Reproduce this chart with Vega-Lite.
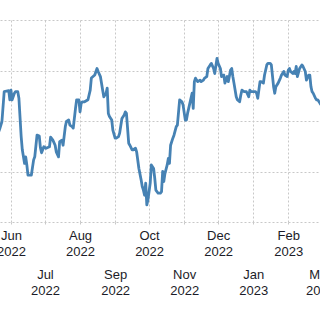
{
  "$schema": "https://vega.github.io/schema/vega-lite/v6.json",
  "autosize": {"type": "none"},
  "width": 320,
  "height": 202,
  "padding": {"left": 0, "top": 20, "right": 0, "bottom": 98},
  "background": "white",
  "config": {"view": {"stroke": null}},
  "data": {"values": [
    {"date": "2022/05/21", "v": 117.8},
    {"date": "2022/05/22", "v": 118.4},
    {"date": "2022/05/24", "v": 119.9},
    {"date": "2022/05/26", "v": 125.8},
    {"date": "2022/05/30", "v": 126.0},
    {"date": "2022/05/31", "v": 124.2},
    {"date": "2022/06/01", "v": 126.1},
    {"date": "2022/06/02", "v": 124.2},
    {"date": "2022/06/04", "v": 125.5},
    {"date": "2022/06/05", "v": 125.8},
    {"date": "2022/06/07", "v": 125.8},
    {"date": "2022/06/08", "v": 124.5},
    {"date": "2022/06/10", "v": 116.9},
    {"date": "2022/06/11", "v": 114.3},
    {"date": "2022/06/13", "v": 111.6},
    {"date": "2022/06/14", "v": 112.9},
    {"date": "2022/06/15", "v": 111.3},
    {"date": "2022/06/16", "v": 109.3},
    {"date": "2022/06/19", "v": 109.3},
    {"date": "2022/06/21", "v": 112.3},
    {"date": "2022/06/22", "v": 112.9},
    {"date": "2022/06/24", "v": 117.2},
    {"date": "2022/06/26", "v": 117.0},
    {"date": "2022/06/27", "v": 114.7},
    {"date": "2022/06/28", "v": 113.7},
    {"date": "2022/06/30", "v": 114.9},
    {"date": "2022/07/02", "v": 114.6},
    {"date": "2022/07/05", "v": 114.9},
    {"date": "2022/07/06", "v": 116.8},
    {"date": "2022/07/08", "v": 116.2},
    {"date": "2022/07/10", "v": 115.2},
    {"date": "2022/07/11", "v": 113.9},
    {"date": "2022/07/13", "v": 112.9},
    {"date": "2022/07/14", "v": 115.9},
    {"date": "2022/07/16", "v": 116.2},
    {"date": "2022/07/17", "v": 115.2},
    {"date": "2022/07/19", "v": 118.9},
    {"date": "2022/07/20", "v": 119.9},
    {"date": "2022/07/22", "v": 120.2},
    {"date": "2022/07/23", "v": 119.2},
    {"date": "2022/07/25", "v": 118.9},
    {"date": "2022/07/26", "v": 118.6},
    {"date": "2022/07/28", "v": 122.5},
    {"date": "2022/07/29", "v": 124.2},
    {"date": "2022/07/31", "v": 124.2},
    {"date": "2022/08/01", "v": 121.8},
    {"date": "2022/08/02", "v": 123.5},
    {"date": "2022/08/03", "v": 123.8},
    {"date": "2022/08/05", "v": 123.8},
    {"date": "2022/08/08", "v": 124.2},
    {"date": "2022/08/10", "v": 126.1},
    {"date": "2022/08/11", "v": 128.5},
    {"date": "2022/08/14", "v": 129.1},
    {"date": "2022/08/16", "v": 130.4},
    {"date": "2022/08/17", "v": 129.8},
    {"date": "2022/08/19", "v": 128.8},
    {"date": "2022/08/21", "v": 126.1},
    {"date": "2022/08/22", "v": 124.8},
    {"date": "2022/08/24", "v": 125.5},
    {"date": "2022/08/25", "v": 126.5},
    {"date": "2022/08/26", "v": 121.5},
    {"date": "2022/08/27", "v": 120.9},
    {"date": "2022/08/29", "v": 120.2},
    {"date": "2022/08/30", "v": 118.2},
    {"date": "2022/09/01", "v": 116.6},
    {"date": "2022/09/02", "v": 116.6},
    {"date": "2022/09/04", "v": 116.9},
    {"date": "2022/09/05", "v": 117.6},
    {"date": "2022/09/07", "v": 120.5},
    {"date": "2022/09/09", "v": 121.2},
    {"date": "2022/09/10", "v": 121.8},
    {"date": "2022/09/11", "v": 121.5},
    {"date": "2022/09/13", "v": 115.6},
    {"date": "2022/09/14", "v": 115.2},
    {"date": "2022/09/16", "v": 114.3},
    {"date": "2022/09/17", "v": 114.3},
    {"date": "2022/09/19", "v": 114.6},
    {"date": "2022/09/20", "v": 113.9},
    {"date": "2022/09/22", "v": 110.6},
    {"date": "2022/09/24", "v": 108.3},
    {"date": "2022/09/25", "v": 107.0},
    {"date": "2022/09/26", "v": 106.3},
    {"date": "2022/09/27", "v": 105.3},
    {"date": "2022/09/28", "v": 107.7},
    {"date": "2022/09/29", "v": 103.4},
    {"date": "2022/09/30", "v": 104.4},
    {"date": "2022/10/02", "v": 107.7},
    {"date": "2022/10/03", "v": 111.3},
    {"date": "2022/10/05", "v": 110.6},
    {"date": "2022/10/06", "v": 108.7},
    {"date": "2022/10/07", "v": 106.3},
    {"date": "2022/10/09", "v": 105.7},
    {"date": "2022/10/11", "v": 105.7},
    {"date": "2022/10/12", "v": 106.0},
    {"date": "2022/10/13", "v": 110.0},
    {"date": "2022/10/14", "v": 108.0},
    {"date": "2022/10/15", "v": 109.6},
    {"date": "2022/10/17", "v": 111.3},
    {"date": "2022/10/18", "v": 112.6},
    {"date": "2022/10/19", "v": 111.6},
    {"date": "2022/10/20", "v": 115.2},
    {"date": "2022/10/22", "v": 116.6},
    {"date": "2022/10/23", "v": 117.2},
    {"date": "2022/10/25", "v": 118.9},
    {"date": "2022/10/26", "v": 119.2},
    {"date": "2022/10/28", "v": 124.2},
    {"date": "2022/10/30", "v": 123.8},
    {"date": "2022/10/31", "v": 123.2},
    {"date": "2022/11/02", "v": 120.2},
    {"date": "2022/11/03", "v": 120.2},
    {"date": "2022/11/04", "v": 121.5},
    {"date": "2022/11/05", "v": 122.5},
    {"date": "2022/11/08", "v": 125.5},
    {"date": "2022/11/09", "v": 122.5},
    {"date": "2022/11/10", "v": 127.8},
    {"date": "2022/11/11", "v": 128.5},
    {"date": "2022/11/12", "v": 128.1},
    {"date": "2022/11/13", "v": 127.8},
    {"date": "2022/11/15", "v": 128.1},
    {"date": "2022/11/16", "v": 127.8},
    {"date": "2022/11/18", "v": 128.1},
    {"date": "2022/11/19", "v": 128.5},
    {"date": "2022/11/21", "v": 128.8},
    {"date": "2022/11/22", "v": 130.4},
    {"date": "2022/11/24", "v": 131.1},
    {"date": "2022/11/25", "v": 131.4},
    {"date": "2022/11/27", "v": 130.4},
    {"date": "2022/11/28", "v": 129.4},
    {"date": "2022/11/30", "v": 132.4},
    {"date": "2022/12/01", "v": 131.4},
    {"date": "2022/12/03", "v": 130.4},
    {"date": "2022/12/04", "v": 128.8},
    {"date": "2022/12/06", "v": 129.1},
    {"date": "2022/12/07", "v": 127.5},
    {"date": "2022/12/09", "v": 128.8},
    {"date": "2022/12/10", "v": 127.8},
    {"date": "2022/12/12", "v": 130.1},
    {"date": "2022/12/13", "v": 130.4},
    {"date": "2022/12/14", "v": 128.8},
    {"date": "2022/12/15", "v": 127.5},
    {"date": "2022/12/17", "v": 124.8},
    {"date": "2022/12/18", "v": 124.2},
    {"date": "2022/12/20", "v": 123.8},
    {"date": "2022/12/21", "v": 125.1},
    {"date": "2022/12/22", "v": 126.1},
    {"date": "2022/12/24", "v": 125.8},
    {"date": "2022/12/26", "v": 125.8},
    {"date": "2022/12/28", "v": 124.8},
    {"date": "2022/12/29", "v": 126.1},
    {"date": "2022/12/30", "v": 125.8},
    {"date": "2023/01/01", "v": 125.8},
    {"date": "2023/01/03", "v": 125.8},
    {"date": "2023/01/04", "v": 125.5},
    {"date": "2023/01/05", "v": 124.5},
    {"date": "2023/01/07", "v": 127.8},
    {"date": "2023/01/08", "v": 127.8},
    {"date": "2023/01/10", "v": 127.5},
    {"date": "2023/01/11", "v": 129.1},
    {"date": "2023/01/13", "v": 131.1},
    {"date": "2023/01/14", "v": 131.4},
    {"date": "2023/01/16", "v": 131.4},
    {"date": "2023/01/17", "v": 131.1},
    {"date": "2023/01/19", "v": 126.8},
    {"date": "2023/01/20", "v": 125.5},
    {"date": "2023/01/21", "v": 126.8},
    {"date": "2023/01/23", "v": 127.5},
    {"date": "2023/01/25", "v": 128.5},
    {"date": "2023/01/26", "v": 129.1},
    {"date": "2023/01/28", "v": 129.8},
    {"date": "2023/01/29", "v": 129.1},
    {"date": "2023/01/31", "v": 128.8},
    {"date": "2023/02/01", "v": 130.1},
    {"date": "2023/02/02", "v": 130.4},
    {"date": "2023/02/03", "v": 129.8},
    {"date": "2023/02/05", "v": 129.4},
    {"date": "2023/02/06", "v": 129.8},
    {"date": "2023/02/07", "v": 129.4},
    {"date": "2023/02/08", "v": 130.8},
    {"date": "2023/02/09", "v": 128.8},
    {"date": "2023/02/11", "v": 130.4},
    {"date": "2023/02/13", "v": 131.1},
    {"date": "2023/02/14", "v": 130.8},
    {"date": "2023/02/16", "v": 129.8},
    {"date": "2023/02/17", "v": 128.1},
    {"date": "2023/02/19", "v": 129.1},
    {"date": "2023/02/20", "v": 129.1},
    {"date": "2023/02/21", "v": 126.8},
    {"date": "2023/02/22", "v": 125.8},
    {"date": "2023/02/23", "v": 125.5},
    {"date": "2023/02/25", "v": 124.5},
    {"date": "2023/02/26", "v": 124.2},
    {"date": "2023/02/27", "v": 124.2},
    {"date": "2023/03/01", "v": 123.5},
    {"date": "2023/03/02", "v": 123.2}
  ]},
  "mark": {"type": "line", "color": "#4682b4", "strokeWidth": 2.8, "clip": true, "strokeJoin": "round"},
  "encoding": {
    "x": {
      "field": "date",
      "type": "temporal",
      "scale": {"domain": [{"year": 2022, "month": 5, "date": 22, "hours": 7}, {"year": 2023, "month": 3, "date": 1}]},
      "axis": {
        "title": null,
        "domain": false,
        "grid": true,
        "gridColor": "#c8c8c8",
        "gridDash": [2, 2],
        "ticks": true,
        "tickColor": "#c8c8c8",
        "tickDash": [2, 2],
        "tickSize": 4,
        "tickCount": {"interval": "month", "step": 1},
        "labelExpr": "[timeFormat(datum.value, '%b'), timeFormat(datum.value, '%Y')]",
        "labelFont": "Liberation Sans",
        "labelFontSize": 13,
        "labelLineHeight": 16,
        "labelColor": "#1c1c28",
        "labelBaseline": "top",
        "labelAlign": "center",
        "labelOverlap": false,
        "labelFlush": false,
        "labelBound": false,
        "labelPadding": {"condition": {"test": "month(datum.value) % 2 == 0", "value": 42}, "value": 3}
      }
    },
    "y": {
      "field": "v",
      "type": "quantitative",
      "scale": {"domain": [100, 140], "nice": false, "zero": false},
      "axis": {
        "title": null,
        "domain": false,
        "ticks": false,
        "labels": false,
        "grid": true,
        "gridColor": "#c8c8c8",
        "gridDash": [2, 2],
        "values": [100, 110, 120, 130, 140]
      }
    }
  }
}
